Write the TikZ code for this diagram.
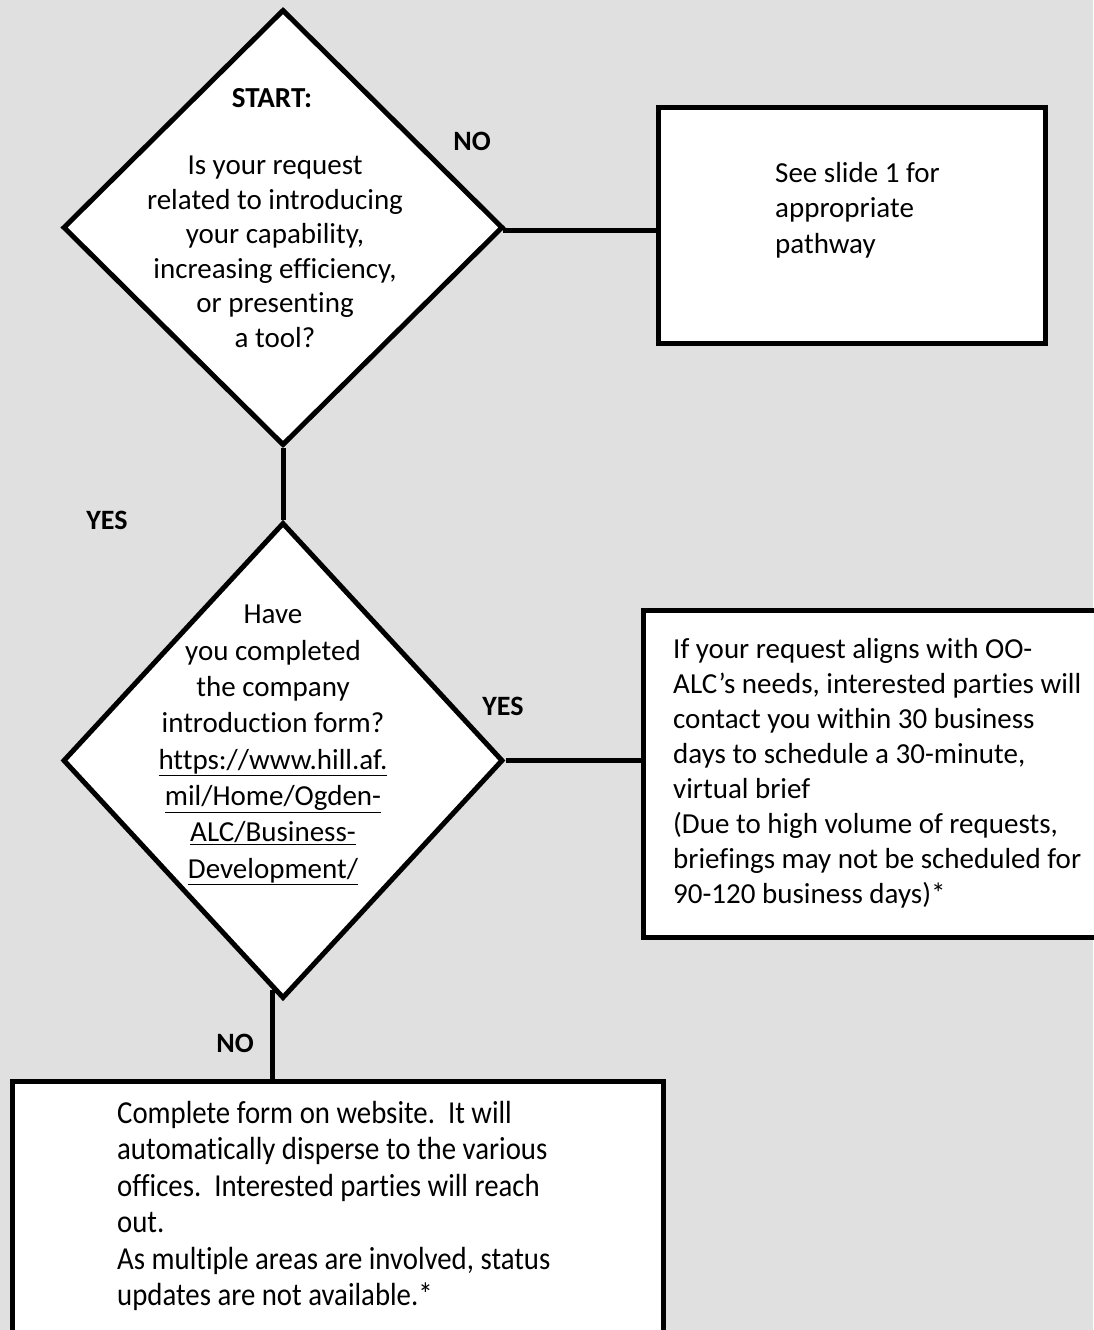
\documentclass[tikz,border=0pt]{standalone}
\usepackage{fontspec}
\setmainfont{Carlito}[Ligatures=NoCommon]
\newfontfamily\condensed[FakeStretch=0.9,Ligatures=NoCommon]{Carlito}
\usetikzlibrary{shapes.geometric,calc}
\definecolor{pagegray}{RGB}{224,224,224}
\begin{document}
\begin{tikzpicture}[x=1pt,y=-1pt,
  outline/.style={draw=black,line width=5pt,fill=white},
  decision/.style={outline,diamond,inner sep=0pt,shape aspect=1},
  panel/.style={outline,rectangle,inner sep=0pt},
  link/.style={draw=black,line width=5pt},
  body/.style={inner sep=0pt,font=\fontsize{29}{36}\selectfont},
  answer/.style={inner sep=0pt,font=\fontsize{28}{34}\selectfont\bfseries}]

% page background
\fill[pagegray] (0,0) rectangle (1093,1330);
\useasboundingbox (0,0) rectangle (1093,1330);

% decisions
\node[decision, minimum width=440pt, minimum height=436pt] (q1) at (283,227.5) {};
\node[decision, minimum width=440pt, minimum height=476pt] (q2) at (283,760.5) {};

% outcome boxes
\node[panel, minimum width=387pt, minimum height=236pt] (b1) at (852,225.5) {};
\node[panel, minimum width=461.5pt, minimum height=327pt] (b2) at (874.25,774) {};
\node[panel, minimum width=651pt, minimum height=268.5pt] (b3) at (338,1215.75) {};

% connectors
\coordinate (q1tip) at ($(q1.east)+(-3,3)$);
\draw[link] (q1tip) -- (q1tip -| b1.west);
\draw[link] (q1.south) -- (q2.north);
\draw[link] (q2.east) -- (q2.east -| b2.west);
\coordinate (q2foot) at ($(q2.south)+(-11,-11)$);
\draw[link] (q2foot) -- (q2foot |- b3.north);

% branch labels
\node[answer] (noA) at (472,141) {NO};
\node[answer] (yesA) at (107,520) {YES};
\node[answer] (yesB) at (503,706) {YES};
\node[answer] (noB) at (235,1043) {NO};

% question texts
\node[inner sep=0pt,font=\fontsize{29}{36}\selectfont\bfseries] (startlbl) at (272,98) {START:};
\node[body,align=center,font=\fontsize{29}{34.5}\selectfont] (q1text) at (275,252)
  {Is your request\\related to introducing\\your capability,\\increasing efficiency,\\or presenting\\a tool?};
\node[body,align=center,font=\fontsize{29}{36.3}\selectfont] (q2text) at (273,745)
  {Have\\you completed\\the company\\introduction form?\\\underline{https://www.hill.af.}\\\underline{mil/Home/Ogden-}\\\underline{ALC/Business-}\\\underline{Development/}};

% outcome texts
\node[body,align=left,anchor=west,font=\fontsize{29}{35.5}\selectfont] (b1text) at (775,210)
  {See slide 1 for\\appropriate\\pathway};
\node[body,align=left,anchor=west,font=\fontsize{29}{35}\selectfont] (b2text) at (673,773)
  {If your request aligns with OO-\\ALC’s needs, interested parties will\\contact you within 30 business\\days to schedule a 30-minute,\\virtual brief\\(Due to high volume of requests,\\briefings may not be scheduled for\\90-120 business days)*};
\node[body,align=left,anchor=west,font=\condensed\fontsize{32}{36.4}\selectfont] (b3text) at (117,1206)
  {Complete form on website.\ \ It will\\automatically disperse to the various\\offices.\ \ Interested parties will reach\\out.\\As multiple areas are involved, status\\updates are not available.*};
\end{tikzpicture}
\end{document}
